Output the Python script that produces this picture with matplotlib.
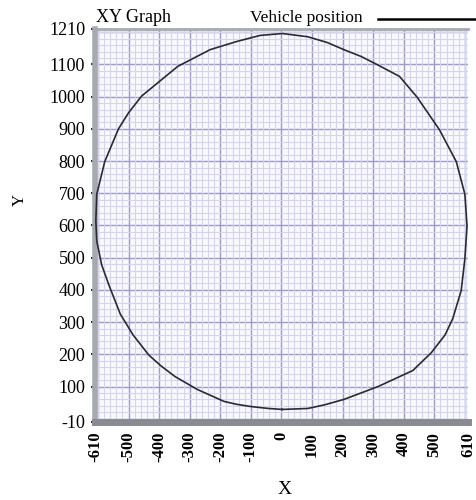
import matplotlib
matplotlib.use("Agg")
import matplotlib.pyplot as plt
from matplotlib.lines import Line2D
from matplotlib.ticker import MultipleLocator

plt.rcParams['font.family'] = ['Liberation Serif', 'DejaVu Serif']

# vehicle position (x, y), going round the loop
pos_x = [3, 86, 140, 204, 316, 430, 490, 535, 560, 588, 600, 607, 600, 572, 517,
         444, 386, 312, 260, 204, 150, 86, 3, -70, -147, -233, -339, -457, -500,
         -533, -578, -604, -607, -604, -588, -565, -527, -485, -434, -395, -348,
         -275, -188, -147, -100, -42, 3]
pos_y = [29, 32, 43, 60, 100, 150, 205, 260, 310, 398, 497, 598, 697, 798, 897,
         998, 1063, 1100, 1125, 1146, 1168, 1186, 1196, 1190, 1171, 1146, 1094,
         1002, 950, 900, 798, 697, 614, 552, 478, 417, 325, 260, 198, 165, 131,
         91, 54, 45, 38, 32, 29]

x_ticks = [-610, -500, -400, -300, -200, -100, 0, 100, 200, 300, 400, 500, 610]
y_ticks = [-10, 100, 200, 300, 400, 500, 600, 700, 800, 900, 1000, 1100, 1210]

fig = plt.figure(figsize=(4.77, 5.0), dpi=100)
ax = fig.add_axes([0.199, 0.156, 0.782, 0.786])
ax.set_facecolor('#f8f8fd')

# grid: light minor every 20, darker major every 100
ax.xaxis.set_minor_locator(MultipleLocator(20))
ax.yaxis.set_minor_locator(MultipleLocator(20))
ax.grid(which='minor', color='#d4d4ec', lw=0.8)
for v in range(-600, 601, 100):
    ax.axvline(v, color='#9c9cc6', lw=1.0, zorder=0.5)
for v in range(0, 1201, 100):
    ax.axhline(v, color='#9c9cc6', lw=1.0, zorder=0.5)
ax.set_axisbelow(True)

ax.plot(pos_x, pos_y, color='#2a2a35', lw=1.2, zorder=3)

ax.set_xlim(-610, 610)
ax.set_ylim(-10, 1210)
ax.set_xticks(x_ticks)
ax.set_yticks(y_ticks)
ax.set_xticklabels([str(t) for t in x_ticks], rotation=90, fontweight='bold', fontsize=12)
ax.set_yticklabels([str(t) for t in y_ticks], fontsize=13)
ax.tick_params(which='minor', length=0)
ax.tick_params(which='major', length=3, width=1.5, color='#333333', pad=4)

ax.spines['right'].set_visible(False)
ax.spines['top'].set_color('#a8a8b0')
ax.spines['top'].set_linewidth(2)
ax.spines['left'].set_color('#a8a8b2')
ax.spines['left'].set_linewidth(4)
ax.spines['bottom'].set_color('#8a8a92')
ax.spines['bottom'].set_linewidth(5)

fig.text(0.201, 0.956, 'XY Graph', fontsize=13)
fig.text(0.524, 0.957, 'Vehicle position', fontsize=12.5)
fig.add_artist(Line2D([0.793, 0.995], [0.962, 0.962], color='black', lw=1.8))

fig.text(0.042, 0.60, 'Y', rotation=90, fontsize=12, ha='center', va='center')
fig.text(0.597, 0.022, 'X', fontsize=14, ha='center', va='center')

fig.savefig('out.png', dpi=100)
